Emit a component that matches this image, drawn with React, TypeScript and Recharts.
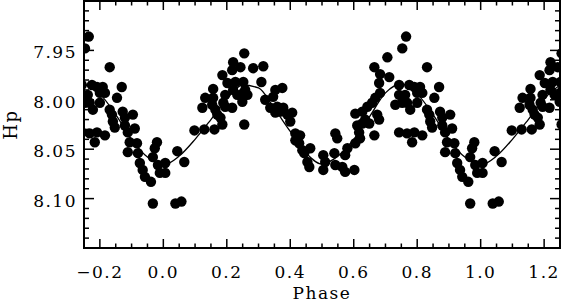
import React from 'react';
import { ComposedChart, XAxis, YAxis, Scatter, Line, ReferenceArea } from 'recharts';

// Observed Hipparcos magnitudes, one cycle (phase 0..1); the plot repeats them outside 0..1
const obsPhase = [
  0.006, 0.006, 0.044, 0.066, 0.038, 0.057, 0.098, 0.129, 0.161, 0.123, 0.132, 0.157, 0.157, 0.154, 0.164, 0.170,
  0.180, 0.186, 0.189, 0.195, 0.195, 0.217, 0.186, 0.202, 0.220, 0.220, 0.217, 0.243, 0.227, 0.249, 0.233,
  0.255, 0.255, 0.252, 0.252, 0.265, 0.249, 0.283, 0.315, 0.309, 0.258, 0.321, 0.346, 0.353, 0.375, 0.337, 0.359,
  0.369, 0.353, 0.378, 0.406, 0.391, 0.400, 0.416, 0.431, 0.416, 0.428, 0.438, 0.463, 0.444, 0.454, 0.460,
  0.504, 0.504, 0.510, 0.539, 0.542, 0.564, 0.573, 0.602, 0.580, 0.573, 0.542, 0.548, 0.605, 0.611, 0.617, 0.620,
  0.627, 0.649, 0.627, 0.605, 0.636, 0.674, 0.680, 0.665, 0.643, 0.658, 0.668, 0.683, 0.680, 0.683, 0.712, 0.665,
  0.706, 0.743, 0.743, 0.731, 0.753, 0.743, 0.753,
  0.765, 0.831, 0.869, 0.854, 0.775, 0.791, 0.809, 0.762, 0.800, 0.816, 0.768, 0.800, 0.778, 0.831, 0.838, 0.841,
  0.847, 0.872, 0.879, 0.904, 0.879, 0.888, 0.910, 0.768, 0.791, 0.784, 0.816, 0.894, 0.917, 0.888, 0.920, 0.980,
  0.973, 0.967, 0.926, 0.935, 0.942, 0.961, 0.983, 0.989, 0.967,
];
const obsHp = [
  8.064, 8.074, 8.052, 8.063, 8.105, 8.103, 8.031, 8.030, 8.030, 8.008, 7.998, 7.989, 7.998, 8.005, 8.010, 8.015,
  8.018, 8.025, 8.003, 8.007, 7.995, 8.008, 7.975, 7.983, 7.990, 7.962, 7.970, 7.967, 7.982, 7.998, 7.995,
  8.025, 7.953, 7.982, 7.993, 7.995, 8.002, 7.968, 7.966, 7.982, 7.990, 8.000, 7.997, 7.990, 7.988, 8.008, 8.007,
  8.012, 8.013, 8.008, 8.013, 8.015, 8.022, 8.034, 8.036, 8.041, 8.044, 8.051, 8.049, 8.054, 8.063, 8.068,
  8.056, 8.071, 8.063, 8.054, 8.066, 8.068, 8.073, 8.071, 8.049, 8.056, 8.034, 8.039, 8.044, 8.026, 8.033, 8.039,
  8.024, 8.024, 8.012, 8.014, 8.020, 8.015, 8.020, 8.036, 8.007, 8.003, 7.998, 7.993, 7.983, 7.974, 7.977, 7.967,
  7.957, 7.985, 7.995, 8.005, 8.003, 8.033, 7.948,
  7.936, 7.967, 7.987, 7.998, 7.985, 7.987, 7.987, 7.995, 7.993, 7.993, 8.003, 8.003, 8.010, 8.010, 8.015, 8.022,
  8.028, 8.012, 8.018, 8.015, 8.026, 8.033, 8.029, 8.034, 8.033, 8.043, 8.036, 8.043, 8.044, 8.053, 8.054, 8.043,
  8.049, 8.058, 8.064, 8.071, 8.078, 8.083, 8.066, 8.074, 8.105,
];

// Fitted light curve, one cycle
const fitPhase = [0, 0.05, 0.1, 0.15, 0.2, 0.25, 0.3, 0.35, 0.4, 0.45, 0.5, 0.55, 0.6, 0.65, 0.7, 0.75, 0.8, 0.85, 0.9, 0.95, 1.0];
const fitHp = [8.066, 8.057, 8.040, 8.020, 7.999, 7.985, 7.988, 8.009, 8.032, 8.054, 8.065, 8.057, 8.040, 8.017, 7.993, 7.984, 7.994, 8.015, 8.040, 8.058, 8.066];

const xLabelTicks = [-0.2, 0.0, 0.2, 0.4, 0.6, 0.8, 1.0, 1.2];
const yLabelTicks = [7.95, 8.0, 8.05, 8.1];
const X_DOMAIN: [number, number] = [-0.25, 1.25];
const Y_DOMAIN: [number, number] = [7.9, 8.15];

const xTicks = Array.from({ length: 31 }, (_, i) => (-25 + 5 * i) / 100);
const yTicks = Array.from({ length: 26 }, (_, i) => (790 + i) / 100);

const W = 563;
const H = 303;
const MARGIN = { top: 1, right: 3, bottom: 0, left: 0 };
const Y_AXIS_W = 84;
const X_AXIS_H = 55;
const PLOT_TOP = MARGIN.top;
const PLOT_BOTTOM = H - MARGIN.bottom - X_AXIS_H;
const PLOT_LEFT = MARGIN.left + Y_AXIS_W;
const PLOT_RIGHT = W - MARGIN.right;

const INK = '#000';
const FONT = { fontFamily: '"DejaVu Serif", serif', fontSize: 17, letterSpacing: 1.5, fill: INK };

function fold(phases: number[], values: number[], lo: number, hi: number) {
  const seen = new Set<string>();
  const out: { phase: number; hp: number }[] = [];
  phases.forEach((p, i) => {
    for (const s of [-1, 0, 1]) {
      const q = +(p + s).toFixed(4);
      const key = q + ':' + values[i];
      if (q >= lo && q <= hi && !seen.has(key)) {
        seen.add(key);
        out.push({ phase: q, hp: values[i] });
      }
    }
  });
  return out.sort((a, b) => a.phase - b.phase);
}

const obsData = fold(obsPhase, obsHp, -0.27, 1.27);
const fitData = fold(fitPhase, fitHp, -0.25, 1.25);

const near = (a: number, b: number) => Math.abs(a - b) < 1e-6;
const isMultiple = (v: number, step: number) => Math.abs(v / step - Math.round(v / step)) < 1e-6;
const fmt = (v: number, d: number) => v.toFixed(d).replace('-', '\u2212');

const XTick = (props: any) => {
  const { x, payload } = props;
  const v = payload.value as number;
  const len = isMultiple(v, 0.2) ? 9 : 4.5;
  const label = xLabelTicks.some((t) => near(t, v));
  return (
    <g>
      <line x1={x} x2={x} y1={PLOT_BOTTOM} y2={PLOT_BOTTOM - len} stroke={INK} strokeWidth={1.5} />
      <line x1={x} x2={x} y1={PLOT_TOP} y2={PLOT_TOP + len} stroke={INK} strokeWidth={1.5} />
      {label && (
        <text x={x} y={PLOT_BOTTOM + 30} textAnchor="middle" {...FONT}>
          {fmt(v, 1)}
        </text>
      )}
    </g>
  );
};

const YTick = (props: any) => {
  const { y, payload } = props;
  const v = payload.value as number;
  const len = isMultiple(v, 0.05) ? 10 : 5;
  const label = yLabelTicks.some((t) => near(t, v));
  return (
    <g>
      <line x1={PLOT_LEFT} x2={PLOT_LEFT + len} y1={y} y2={y} stroke={INK} strokeWidth={1.5} />
      <line x1={PLOT_RIGHT} x2={PLOT_RIGHT - len} y1={y} y2={y} stroke={INK} strokeWidth={1.5} />
      {label && (
        <text x={PLOT_LEFT - 7} y={y + 8} textAnchor="end" {...FONT}>
          {fmt(v, 2)}
        </text>
      )}
    </g>
  );
};

const Dot = (props: any) => <circle cx={props.cx} cy={props.cy} r={5.2} fill={INK} />;

export default function App() {
  const midY = (PLOT_TOP + PLOT_BOTTOM) / 2;
  const midX = (PLOT_LEFT + PLOT_RIGHT) / 2;
  return (
    <div style={{ position: 'absolute', left: 0, top: 0, width: W, height: H, background: '#fff' }}>
      <ComposedChart width={W} height={H} margin={MARGIN}>
        <XAxis
          type="number"
          dataKey="phase"
          domain={X_DOMAIN}
          allowDataOverflow
          ticks={xTicks}
          interval={0}
          tick={XTick}
          tickLine={false}
          axisLine={false}
          tickSize={0}
          height={X_AXIS_H}
          label={() => (
            <text x={midX} y={299} textAnchor="middle" {...FONT}>
              Phase
            </text>
          )}
        />
        <YAxis
          type="number"
          dataKey="hp"
          domain={Y_DOMAIN}
          reversed
          allowDataOverflow
          ticks={yTicks}
          interval={0}
          tick={YTick}
          tickLine={false}
          axisLine={false}
          tickSize={0}
          width={Y_AXIS_W}
          label={() => (
            <text
              x={17}
              y={midY}
              textAnchor="middle"
              transform={`rotate(-90, 17, ${midY})`}
              {...FONT}
              fontSize={18}
            >
              Hp
            </text>
          )}
        />
        <ReferenceArea
          x1={X_DOMAIN[0]}
          x2={X_DOMAIN[1]}
          y1={Y_DOMAIN[0]}
          y2={Y_DOMAIN[1]}
          fill="none"
          fillOpacity={0}
          stroke={INK}
          strokeWidth={2}
          ifOverflow="visible"
        />
        <Line
          data={fitData}
          dataKey="hp"
          type="monotone"
          stroke={INK}
          strokeWidth={1.3}
          dot={false}
          activeDot={false}
          isAnimationActive={false}
        />
        <Scatter data={obsData} dataKey="hp" shape={Dot} isAnimationActive={false} />
      </ComposedChart>
    </div>
  );
}
